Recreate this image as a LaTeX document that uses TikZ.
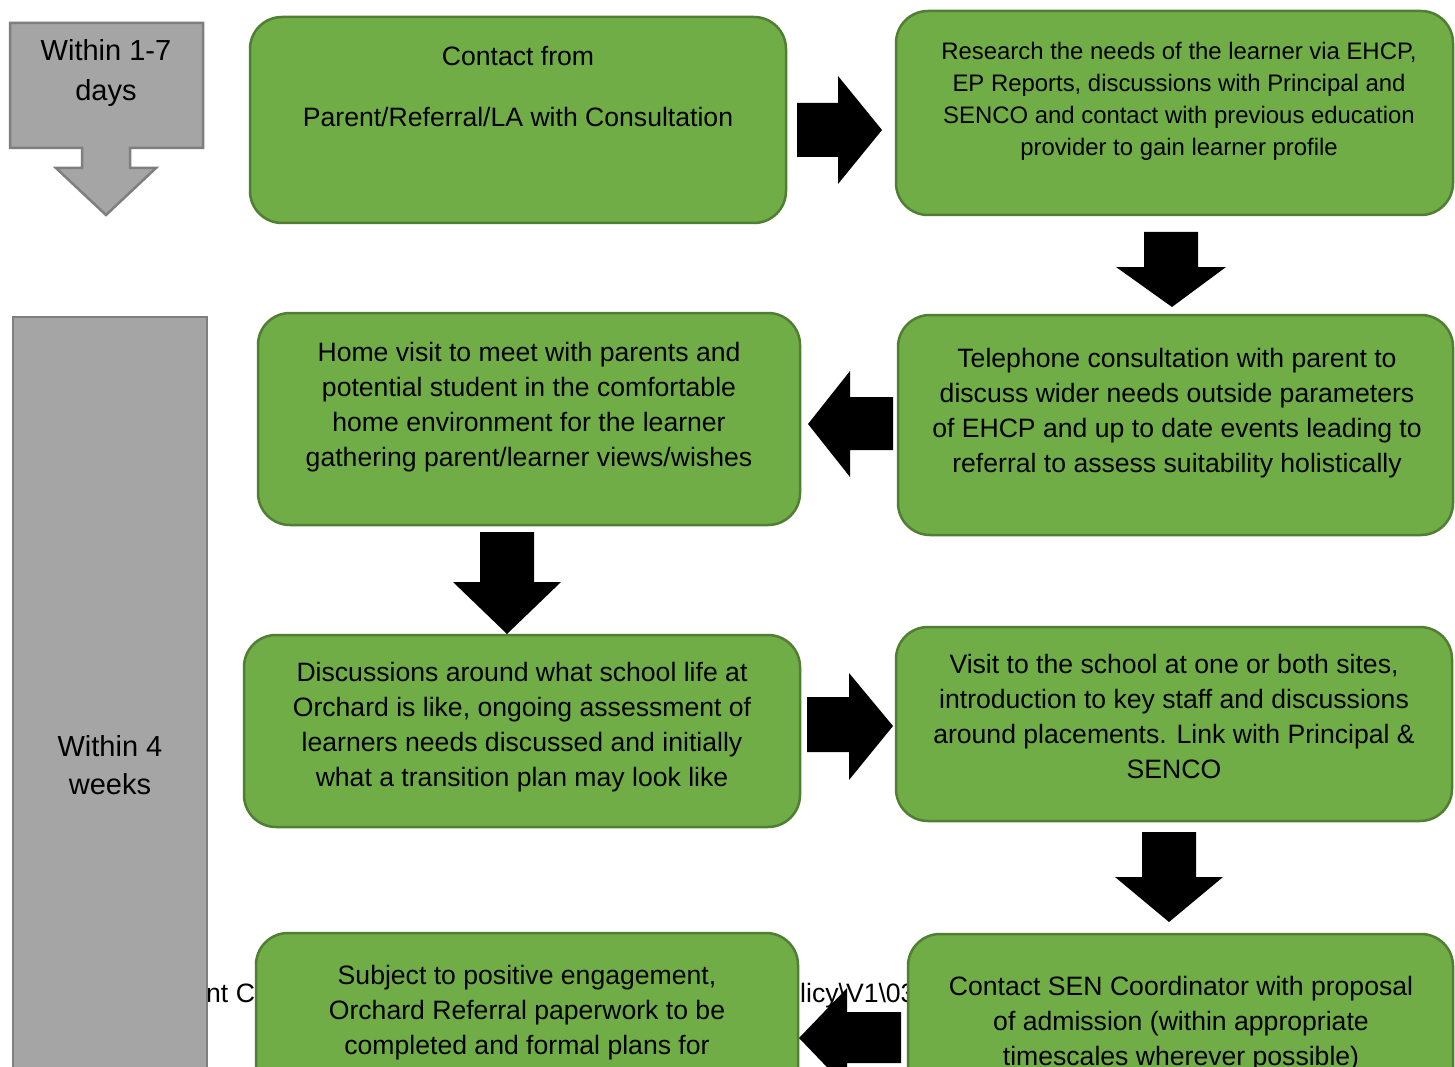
\documentclass[tikz,border=0pt]{standalone}
\usepackage{fontspec}
\setmainfont{Liberation Sans}
\definecolor{gfill}{HTML}{70AD47}
\definecolor{gline}{HTML}{507E32}
\definecolor{grfill}{HTML}{A5A5A5}
\definecolor{grline}{HTML}{7F7F7F}
\tikzset{
  gbox/.style={draw=gline, fill=gfill, line width=2.5pt, rounded corners=32pt, inner sep=0pt},
  gray shape/.style={draw=grline, fill=grfill, line width=2.5pt},
  txt/.style={align=center, inner sep=0pt, text=black, font=\fontsize{26.6}{35}\selectfont},
  smalltxt/.style={align=center, inner sep=0pt, text=black, font=\fontsize{23.9}{32}\selectfont},
  graytxt/.style={align=center, inner sep=0pt, text=black, font=\fontsize{29}{39.5}\selectfont},
  foot/.style={inner sep=0pt, text=black, font=\fontsize{26.6}{32}\selectfont},
  blockarrow/.style={fill=black, draw=none}
}
\begin{document}
\begin{tikzpicture}[x=1pt,y=-1pt]
\useasboundingbox (0,0) rectangle (1455,1067);
\clip (0,0) rectangle (1455,1067);
\fill[white] (0,0) rectangle (1455,1067);

% footer text fragments lying behind the shapes
\node[foot, anchor=base west] (f1) at (206,1002) {nt Co};
\node[foot, anchor=base west] (f2) at (800,1002) {licy\textbackslash V1\textbackslash 030};

% gray time markers
\draw[gray shape] (10,23) -- (203,23) -- (203,148) -- (130,148) -- (130,168) -- (156,168)
  -- (106,215) -- (56,168) -- (82,168) -- (82,148) -- (10,148) -- cycle;
\node[graytxt] (g1) at (106,73) {Within 1-7\\days};
\draw[gray shape] (13,317) rectangle (207,1090);
\node[graytxt, font=\fontsize{29}{38}\selectfont] (g2) at (110,765) {Within 4\\weeks};

% green boxes
\node[gbox, minimum width=536pt, minimum height=206pt] (A) at (518,120) {};
\node[gbox, minimum width=557pt, minimum height=204pt] (B) at (1174.5,113) {};
\node[gbox, minimum width=555pt, minimum height=220pt] (C) at (1175.5,425) {};
\node[gbox, minimum width=542pt, minimum height=212pt] (D) at (529,419) {};
\node[gbox, minimum width=556pt, minimum height=192pt] (E) at (522,731) {};
\node[gbox, minimum width=556pt, minimum height=194pt] (F) at (1174,724) {};
\node[gbox, minimum width=545pt, minimum height=166pt] (G) at (1180.5,1017) {};
\node[gbox, minimum width=542pt, minimum height=167pt] (H) at (527,1016.5) {};

% texts
\node[txt, font=\fontsize{26.6}{30.5}\selectfont] (tA) at (518,86.5) {Contact from\\[30.5pt]Parent/Referral/LA with Consultation};
\node[smalltxt] (tB) at (1179,101) {Research the needs of the learner via EHCP,\\EP Reports, discussions with Principal and\\SENCO and contact with previous education\\provider to gain learner profile};
\node[txt] (tC) at (1177,413) {Telephone consultation with parent to\\discuss wider needs outside parameters\\of EHCP and up to date events leading to\\referral to assess suitability holistically};
\node[txt] (tD) at (529,407.5) {Home visit to meet with parents and\\potential student in the comfortable\\home environment for the learner\\gathering parent/learner views/wishes};
\node[txt] (tE) at (522,727.5) {Discussions around what school life at\\Orchard is like, ongoing assessment of\\learners needs discussed and initially\\what a transition plan may look like};
\node[txt] (tF) at (1174,716.5) {Visit to the school at one or both sites,\\introduction to key staff and discussions\\around placements. Link with Principal \&\\SENCO};
\node[txt] (tG) at (1181,1024) {Contact SEN Coordinator with proposal\\of admission (within appropriate\\timescales wherever possible)};
\node[txt] (tH) at (527,1012.5) {Subject to positive engagement,\\Orchard Referral paperwork to be\\completed and formal plans for};

% block arrows
\fill[blockarrow] (797,103) -- (838,103) -- (838,76) -- (882,130) -- (838,184) -- (838,157) -- (797,157) -- cycle;
\fill[blockarrow] (1144,232) -- (1198,232) -- (1198,267) -- (1226,267) -- (1172,307) -- (1116,267) -- (1144,267) -- cycle;
\fill[blockarrow] (893,397) -- (850,397) -- (850,371) -- (808,424) -- (850,477) -- (850,450) -- (893,450) -- cycle;
\fill[blockarrow] (480,532) -- (534,532) -- (534,582) -- (561,582) -- (507,634) -- (453,582) -- (480,582) -- cycle;
\fill[blockarrow] (807,697) -- (849,697) -- (849,673) -- (893,726) -- (849,780) -- (849,752) -- (807,752) -- cycle;
\fill[blockarrow] (1142,832) -- (1196,832) -- (1196,877) -- (1223,877) -- (1169,922) -- (1115,877) -- (1142,877) -- cycle;
\fill[blockarrow] (901,1012) -- (847,1012) -- (847,988) -- (799,1038) -- (847,1088) -- (847,1063) -- (901,1063) -- cycle;
\end{tikzpicture}
\end{document}
